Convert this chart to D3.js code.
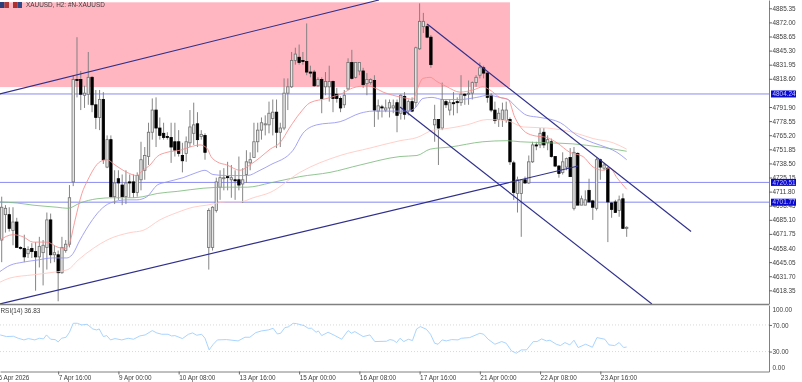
<!DOCTYPE html>
<html>
<head>
<meta charset="utf-8">
<script src="https://cdn.jsdelivr.net/npm/d3@7"></script>
<style>
  html, body { margin: 0; padding: 0; background: #fff; overflow: hidden; }
  svg { filter: blur(0.3px); }
  text { font-family: "Liberation Sans", sans-serif; font-size: 6.4px; fill: #3c3c3c; }
</style>
</head>
<body>
<div id="chart"></div>
<script>
// H2 candles, bar 0 is the first one on screen
const opens = [4666,4690,4690,4675,4683,4659,4658,4653,4658,4655,4650,4654,4659,4685,4652,4652,4635,4656,4662,4721,
  4818,4818,4803,4804,4820,4794,4782,4799,4735,4761,4707,4724,4718,4707,4721,4721,4711,4723,4732,4745,
  4768,4789,4772,4767,4764,4763,4759,4759,4746,4748,4758,4767,4776,4764,4765,4659,4659,4694,4716,4724,
  4726,4723,4723,4723,4719,4728,4739,4744,4759,4770,4775,4775,4781,4787,4768,4772,4805,4811,4836,4839,
  4836,4835,4825,4825,4812,4818,4811,4811,4816,4804,4800,4794,4809,4834,4820,4826,4826,4814,4815,4817,
  4788,4792,4789,4791,4791,4796,4786,4802,4788,4797,4796,4847,4868,4868,4858,4775,4780,4772,4797,4789,
  4796,4797,4796,4804,4804,4805,4815,4822,4829,4824,4803,4789,4780,4780,4779,4780,4739,4710,4710,4723,
  4720,4740,4756,4756,4768,4758,4759,4745,4736,4730,4735,4744,4696,4748,4699,4699,4713,4703,4696,4742,
  4734,4734,4701,4702,4694,4705,4677];
const highs = [4707,4699,4697,4697,4687,4660,4671,4660,4663,4664,4669,4666,4692,4691,4661,4656,4669,4666,4718,4822,
  4858,4826,4812,4844,4821,4808,4808,4806,4765,4765,4732,4732,4728,4732,4728,4728,4730,4759,4754,4777,
  4800,4801,4782,4777,4768,4777,4777,4770,4758,4764,4789,4796,4787,4770,4767,4696,4698,4725,4732,4734,
  4740,4737,4732,4745,4734,4751,4749,4777,4777,4782,4784,4797,4799,4799,4777,4819,4819,4844,4848,4851,
  4844,4871,4831,4827,4820,4820,4825,4831,4817,4810,4802,4808,4838,4846,4834,4834,4829,4824,4819,4822,
  4799,4794,4799,4799,4799,4799,4804,4806,4799,4801,4849,4890,4881,4870,4860,4794,4780,4815,4799,4799,
  4806,4801,4822,4805,4817,4816,4822,4834,4831,4825,4805,4797,4791,4796,4797,4782,4741,4726,4723,4726,
  4746,4759,4759,4772,4772,4765,4762,4745,4737,4749,4744,4753,4754,4749,4708,4713,4724,4704,4744,4743,
  4739,4735,4702,4704,4708,4710,4679];
const lows = [4645,4673,4674,4661,4659,4657,4645,4649,4649,4618,4640,4623,4638,4644,4645,4608,4634,4654,4659,4717,
  4801,4789,4791,4794,4787,4771,4770,4738,4734,4706,4700,4704,4699,4700,4706,4706,4707,4713,4723,4737,
  4761,4754,4761,4761,4761,4739,4745,4745,4730,4740,4754,4756,4754,4761,4742,4638,4656,4692,4704,4713,
  4713,4706,4704,4713,4701,4720,4732,4744,4749,4761,4765,4767,4765,4753,4754,4770,4789,4810,4832,4832,
  4832,4822,4820,4811,4811,4786,4803,4797,4787,4796,4787,4791,4808,4818,4819,4822,4810,4803,4813,4773,
  4780,4782,4787,4782,4786,4768,4780,4780,4784,4787,4792,4846,4862,4857,4829,4759,4737,4770,4791,4784,
  4784,4786,4793,4794,4794,4799,4811,4819,4819,4796,4787,4776,4773,4773,4777,4737,4704,4692,4669,4719,
  4719,4739,4751,4753,4753,4751,4744,4735,4725,4728,4732,4726,4694,4699,4699,4699,4702,4685,4694,4723,
  4732,4664,4687,4692,4688,4677,4669];
const closes = [4697,4696,4677,4683,4659,4658,4650,4657,4655,4650,4660,4661,4685,4652,4654,4635,4659,4662,4706,4818,
  4817,4804,4805,4820,4794,4782,4799,4742,4761,4707,4720,4720,4707,4720,4720,4711,4727,4742,4746,4768,
  4789,4772,4765,4763,4763,4754,4751,4748,4741,4759,4773,4775,4761,4766,4749,4694,4697,4721,4725,4725,
  4725,4725,4722,4718,4723,4740,4742,4759,4770,4777,4776,4786,4787,4768,4772,4805,4811,4836,4842,4834,
  4835,4825,4824,4812,4818,4800,4816,4816,4800,4800,4791,4803,4834,4819,4834,4834,4813,4818,4818,4789,
  4793,4791,4791,4796,4793,4784,4803,4785,4797,4788,4848,4873,4873,4858,4832,4780,4772,4799,4794,4796,
  4795,4796,4804,4803,4805,4815,4820,4829,4824,4801,4789,4779,4786,4789,4789,4740,4711,4723,4723,4720,
  4740,4756,4755,4767,4756,4761,4745,4736,4729,4740,4743,4726,4749,4699,4705,4704,4702,4697,4742,4735,
  4737,4702,4695,4692,4704,4677,4678];

const maFastBars = [-0.5,3,5.7,8.3,12,15,16.8,18.1,19.5,21.3,22.9,26.1,28,30.1,33.3,35.9,37.5,39.4,41.3,43.9,47.4,50,52.7,54.5,55.6,57.2,59.8,63.3,65.9,68.6,71.3,73.9,76.6,79.2,81.9,86.4,90.6,93.3,97,99.1,101.3,103.9,107.7,109.2,110.3,111.9,113.8,115.6,118.3,121.7,125.2,127.8,129.7,132.3,134.5,136.3,138.5,141.1,144.8,147.5,150.9,154.4,157.1,159.7,161.6,163.4,166];
const maFast = [4666,4671,4669,4664,4664,4659,4658,4664,4685,4710,4723,4740,4742,4737,4730,4727,4732,4737,4745,4749,4751,4754,4756,4753,4745,4740,4737,4732,4737,4744,4752,4758,4773,4786,4796,4800,4805,4810,4812,4810,4806,4803,4800,4799,4808,4819,4820,4816,4811,4806,4808,4811,4808,4801,4799,4782,4770,4765,4763,4758,4749,4745,4735,4732,4734,4725,4714];
const maMidBars = [-0.5,2.2,5.7,9.4,13.6,17.3,18.7,20.8,23.5,26.1,28.8,33.3,35.9,38.6,41.3,43.9,48.2,51.9,54,56.1,59.8,65.2,68.6,71.3,77.4,80,83.7,89.9,95.2,98.6,103.9,107.7,109.8,111.9,114.3,117.2,121.7,126.2,129.2,132.3,134.5,136.9,139.5,143,148.4,152.8,157.1,161.1,163.4,166];
const maMid = [4636,4642,4645,4647,4649,4649,4652,4666,4682,4694,4701,4704,4704,4707,4718,4721,4725,4730,4732,4728,4727,4727,4732,4737,4751,4767,4775,4778,4786,4788,4788,4788,4791,4800,4801,4799,4799,4801,4803,4801,4799,4791,4784,4782,4777,4765,4758,4753,4749,4742];
const maSlowBars = [-0.5,2.2,8.3,12.8,17.6,20.3,24.3,28,34.1,37.5,42,46.6,50.8,54.5,59.8,63.3,66.8,71.3,79.2,89.9,97.8,105.8,110.3,114.6,117.2,123.6,128.9,134.2,138.5,144.8,151.7,157.1,162.4,166];
const maSlow = [4626,4630,4633,4635,4638,4647,4658,4666,4673,4675,4685,4692,4697,4699,4702,4702,4706,4711,4730,4746,4753,4760,4763,4770,4771,4775,4780,4779,4773,4772,4768,4762,4758,4752];
const maLongBars = [-0.5,4.1,8.3,14.7,17.6,20.8,25.3,29.6,34.9,37.5,41.3,46.6,53.5,59.8,65.2,71.3,79.2,87.2,95.2,105.8,110.3,113.8,119.1,127.8,134.2,137.7,144.8,151.7,158.9,166];
const maLong = [4702,4701,4699,4697,4696,4701,4705,4706,4706,4707,4710,4712,4715,4716,4716,4720,4726,4730,4737,4745,4746,4752,4754,4759,4760,4759,4758,4757,4754,4750];

const rsiBars = [-0.4,1.3,3.1,4.4,5.9,7.1,8.8,10,11.1,11.9,13,14.2,15,15.9,17.1,18,19,20.1,21.2,22.7,24.2,25.2,25.9,27,27.9,28.9,30.1,31.9,33.6,35,36.7,38.1,40,41.2,42.5,44.2,45.1,46,48,49.6,50.7,51.8,53.1,54,55.1,56.2,57.3,59.7,62.8,64.6,65.9,67.5,69,70.8,72.1,73.2,74.1,75.2,76.1,77.4,78.3,80.3,81.4,82.3,83.5,84.1,85,86.7,88.5,90.3,92,92.9,93.8,96,97.8,99.1,102.2,103.1,104,104.9,105.8,106.8,108,109.1,110.2,111.2,112.8,113.9,115,115.9,117,118.1,119.5,121.2,122.1,124.3,127,128,129.2,131,132.8,134,135.4,136.7,138,139.4,141.2,142.2,143.4,144.7,145.6,147.3,148.4,149.6,150.9,152,153.1,155.1,156.9,158.1,160.2,161.3,162.8,164,165.2,166];
const rsiValues = [55,52.5,53,50,47.5,49.5,47.5,50,49,55,48.5,48,44.5,50,51.5,59,72.5,72.5,70,71,64,62.5,64,52.5,54,47.5,49.5,47.5,50,48.5,53.5,55,61.5,58,56,56,53.5,54,49.5,56,58,54.5,56,50,32.5,41,47.5,48,46,51.5,51.5,58.5,61,62.5,65,56.5,57.5,66,67,72.5,72,69,65,65,59,61,54,59,54,48.5,61.5,57.5,60,52.5,55,45,45.5,48,47,43.5,50,45,48.5,46.5,64,67.5,63.5,56,42.5,41,47.5,46,48,47.5,50,51,57.5,56,48.5,41,45,42.5,31,27.5,32.5,32.5,45,45,49,46,47,41,39,43.5,40,47,36,41,36.5,51,48.5,40,39,43.5,36,36.83];

// objects on the chart, in bar / price units
const zoneBars = [-0.5, 135];
const zonePrices = [4891, 4810.8];
const trendLines = [
  [[-0.5, 4804.2], [100.2, 4893.2]],
  [[-0.5, 4605.4], [153.1, 4736]],
  [[113, 4870.5], [183.1, 4674]],
  [[105.8, 4791.9], [172.7, 4605.4]]
];
const levels = [4804.24, 4720.51, 4701.77];

const priceTicks = [4885.35,4872.00,4858.65,4845.30,4831.95,4818.60,4791.90,4778.55,4765.20,4751.85,4738.50,4725.15,4711.80,4698.45,4685.10,4671.75,4658.40,4645.05,4631.70,4618.35];
const rsiTicks = [100, 70, 30, 0];
const dateBars = [-1, 15, 31, 47, 63, 79, 95, 111, 127, 143, 159];
const dateLabels = ["6 Apr 2026","7 Apr 16:00","9 Apr 00:00","10 Apr 08:00","13 Apr 16:00","15 Apr 00:00","16 Apr 08:00","17 Apr 16:00","21 Apr 00:00","22 Apr 08:00","23 Apr 16:00"];

const w = 802, h = 382;
const plotRight = 769, mainBottom = 304, rsiTop = 305, rsiBottom = 371.5;

const xScale = d3.scaleLinear().domain([-0.45, 203.8]).range([0, plotRight]);
const yScale = d3.scaleLinear().domain([4893.2, 4605.4]).range([0, mainBottom]);
const rsiScale = d3.scaleLinear().domain([0, 100]).range([rsiBottom, rsiTop]);

const svg = d3.select("#chart").append("svg")
  .attr("width", w)
  .attr("height", h)
  .style("display", "block");

svg.append("clipPath").attr("id", "main-clip")
  .append("rect").attr("x", 0).attr("y", 0).attr("width", plotRight).attr("height", mainBottom);

const main = svg.append("g").attr("clip-path", "url(#main-clip)");

// Pink zone
main.append("rect")
  .attr("x", xScale(zoneBars[0]))
  .attr("y", yScale(zonePrices[0]))
  .attr("width", xScale(zoneBars[1]) - xScale(zoneBars[0]))
  .attr("height", yScale(zonePrices[1]) - yScale(zonePrices[0]))
  .attr("fill", "#ffb6c1");

// Horizontal levels
main.selectAll(".level")
  .data(levels)
  .enter()
  .append("line")
  .attr("class", "level")
  .attr("x1", 0)
  .attr("x2", plotRight)
  .attr("y1", (d) => yScale(d))
  .attr("y2", (d) => yScale(d))
  .attr("stroke", (d, i) => i === 2 ? "#aeb0f6" : "#8a8cf0")
  .attr("stroke-width", (d, i) => i === 2 ? 1.6 : 1);

// Candles
const bars = d3.range(opens.length);

main.selectAll(".wick")
  .data(bars)
  .enter()
  .append("line")
  .attr("class", "wick")
  .attr("x1", (i) => xScale(i))
  .attr("x2", (i) => xScale(i))
  .attr("y1", (i) => yScale(highs[i]))
  .attr("y2", (i) => yScale(lows[i]))
  .attr("stroke", "#7e7e7e")
  .attr("stroke-width", 0.95);

main.selectAll(".body")
  .data(bars)
  .enter()
  .append("rect")
  .attr("class", "body")
  .attr("x", (i) => xScale(i) - 1.2)
  .attr("y", (i) => yScale(Math.max(opens[i], closes[i])))
  .attr("width", 2.4)
  .attr("height", (i) => Math.max(1, Math.abs(yScale(opens[i]) - yScale(closes[i]))))
  .attr("fill", (i) => closes[i] >= opens[i] ? "#e6e6e6" : "#000")
  .attr("stroke", (i) => closes[i] >= opens[i] ? "#707070" : "#000")
  .attr("stroke-width", 0.8);

// Moving averages
const maLine = d3.line()
  .x((d) => xScale(d[0]))
  .y((d) => yScale(d[1]))
  .curve(d3.curveMonotoneX);

[
  [maLongBars, maLong, "#7fbb7f"],
  [maSlowBars, maSlow, "#ffc8c0"],
  [maMidBars, maMid, "#9494f2"],
  [maFastBars, maFast, "#f78c8c"]
].forEach((m) => {
  main.append("path")
    .attr("d", maLine(d3.zip(m[0], m[1])))
    .attr("fill", "none")
    .attr("stroke", m[2])
    .attr("stroke-width", 0.85);
});

// Trend lines
main.selectAll(".trend")
  .data(trendLines)
  .enter()
  .append("line")
  .attr("class", "trend")
  .attr("x1", (d) => xScale(d[0][0]))
  .attr("y1", (d) => yScale(d[0][1]))
  .attr("x2", (d) => xScale(d[1][0]))
  .attr("y2", (d) => yScale(d[1][1]))
  .attr("stroke", "#2f2f8c")
  .attr("stroke-width", 1.15);

// Title row
svg.append("rect").attr("x", 0).attr("y", 2).attr("width", 4.5).attr("height", 6).attr("fill", "#2c3e7a");
svg.append("rect").attr("x", 4.5).attr("y", 2).attr("width", 4.5).attr("height", 6).attr("fill", "#b03a3a");
svg.append("rect").attr("x", 13).attr("y", 2).attr("width", 4.5).attr("height", 6).attr("fill", "#b03030");
svg.append("rect").attr("x", 17.5).attr("y", 2).attr("width", 4.5).attr("height", 6).attr("fill", "#2c4a8a");
svg.append("text").attr("x", 26).attr("y", 7.3).text("XAUUSD, H2:  #N-XAUUSD");

// RSI panel
svg.selectAll(".rsi-level")
  .data([70, 30])
  .enter()
  .append("line")
  .attr("class", "rsi-level")
  .attr("x1", 0)
  .attr("x2", plotRight)
  .attr("y1", (d) => rsiScale(d))
  .attr("y2", (d) => rsiScale(d))
  .attr("stroke", "#cfcfcf")
  .attr("stroke-width", 0.8)
  .attr("stroke-dasharray", "1 2");

svg.append("path")
  .attr("d", d3.line().x((d) => xScale(d[0])).y((d) => rsiScale(d[1]))(d3.zip(rsiBars, rsiValues)))
  .attr("fill", "none")
  .attr("stroke", "#9fcfff")
  .attr("stroke-width", 0.9);

svg.append("text").attr("x", 0.5).attr("y", 312.5).text("RSI(14) 36.83");

// Panel divider
svg.append("line")
  .attr("x1", 0).attr("x2", plotRight)
  .attr("y1", yScale.range()[1] + 0.5).attr("y2", yScale.range()[1] + 0.5)
  .attr("stroke", "#808080").attr("stroke-width", 1.6);

// Axes
const priceAxis = d3.axisRight(yScale)
  .tickValues(priceTicks)
  .tickFormat((d) => d.toFixed(2))
  .tickSize(3)
  .tickSizeOuter(0);

const gPrice = svg.append("g").attr("transform", "translate(" + plotRight + ",0)").call(priceAxis);

const rsiAxis = d3.axisRight(rsiScale)
  .tickValues(rsiTicks)
  .tickFormat((d) => d.toFixed(2))
  .tickSize(3)
  .tickSizeOuter(0);

const gRsi = svg.append("g").attr("transform", "translate(" + plotRight + ",0)").call(rsiAxis);
gRsi.selectAll(".tick text")
  .attr("dy", (d) => d === 100 ? "0.95em" : d === 0 ? "-0.35em" : "0.32em");
gRsi.selectAll(".tick line").attr("opacity", (d) => d === 100 || d === 0 ? 0 : 1);

const dateAxis = d3.axisBottom(xScale)
  .tickValues(dateBars)
  .tickFormat((d, i) => dateLabels[i])
  .tickSize(3)
  .tickSizeOuter(0);

const gDate = svg.append("g").attr("transform", "translate(0," + rsiBottom + ")").call(dateAxis);
gDate.selectAll(".tick text")
  .attr("text-anchor", "start")
  .attr("x", 0)
  .attr("y", 4);

[gPrice, gRsi, gDate].forEach((g) => {
  g.selectAll(".domain").attr("stroke", "#808080").attr("stroke-width", 1);
  g.selectAll(".tick line").attr("stroke", "#666");
  g.selectAll("text").style("font-family", '"Liberation Sans", sans-serif').style("font-size", "6.4px").attr("fill", "#3c3c3c");
});
gPrice.selectAll(".tick text").attr("x", 3.5);
gRsi.selectAll(".tick text").attr("x", 3.5);

// Level price tags
svg.selectAll(".tag")
  .data(levels)
  .enter()
  .append("rect")
  .attr("class", "tag")
  .attr("x", plotRight + 2)
  .attr("y", (d) => yScale(d) - 3.5)
  .attr("width", 25)
  .attr("height", 7)
  .attr("fill", "#0a0ad2");

svg.selectAll(".tag-text")
  .data(levels)
  .enter()
  .append("text")
  .attr("class", "tag-text")
  .attr("x", plotRight + 3.5)
  .attr("y", (d) => yScale(d) + 2.2)
  .style("fill", "#c8c8f8")
  .text((d) => d.toFixed(2));
</script>
</body>
</html>
